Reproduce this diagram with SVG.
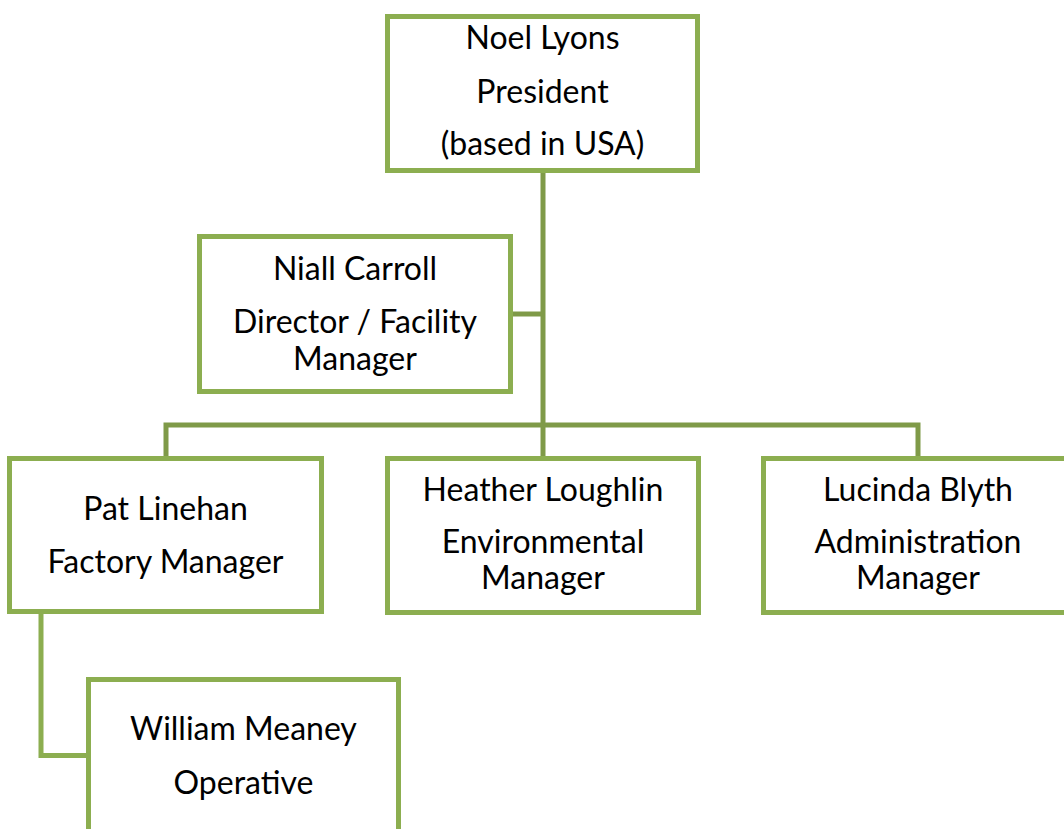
<svg xmlns="http://www.w3.org/2000/svg" width="1064" height="829" viewBox="0 0 1064 829">
<style>
.box{fill:#ffffff;stroke:#8cae50;stroke-width:5}
.conn{fill:none;stroke:#7f9a48;stroke-width:5}
.conn2{fill:none;stroke:#8cae50;stroke-width:5}
text{font-family:Lato,"Liberation Sans",sans-serif;font-size:32px;fill:#000;text-anchor:middle}
</style>
<rect width="1064" height="829" fill="#ffffff"/>
<g id="connectors">
<path class="conn" d="M543 171V425"/>
<path class="conn" d="M511 314H543"/>
<path class="conn" d="M166 458V425H918V458"/>
<path class="conn" d="M543 425V458"/>
<path class="conn2" d="M41 612V755.5H88"/>
</g>
<g id="noel">
<rect class="box" x="387.5" y="16.5" width="310" height="154"/>
<text x="542.5" y="49">Noel Lyons</text>
<text x="542.5" y="103">President</text>
<text x="542.5" y="155">(based in USA)</text>
</g>
<g id="niall">
<rect class="box" x="199.5" y="236.5" width="311" height="155"/>
<text x="355" y="280">Niall Carroll</text>
<text x="355" y="333">Director / Facility</text>
<text x="355" y="370">Manager</text>
</g>
<g id="pat">
<rect class="box" x="9.5" y="458.5" width="312" height="153"/>
<text x="165.5" y="520">Pat Linehan</text>
<text x="165.5" y="573">Factory Manager</text>
</g>
<g id="heather">
<rect class="box" x="387.5" y="458.5" width="311" height="154"/>
<text x="543" y="501">Heather Loughlin</text>
<text x="543" y="553">Environmental</text>
<text x="543" y="589">Manager</text>
</g>
<g id="lucinda">
<rect class="box" x="763.5" y="458.5" width="320" height="154"/>
<text x="918" y="501">Lucinda Blyth</text>
<text x="918" y="553">Administration</text>
<text x="918" y="589">Manager</text>
</g>
<g id="william">
<rect class="box" x="88.5" y="679.5" width="310" height="170"/>
<text x="243.5" y="740">William Meaney</text>
<text x="243.5" y="794">Operative</text>
</g>
</svg>
